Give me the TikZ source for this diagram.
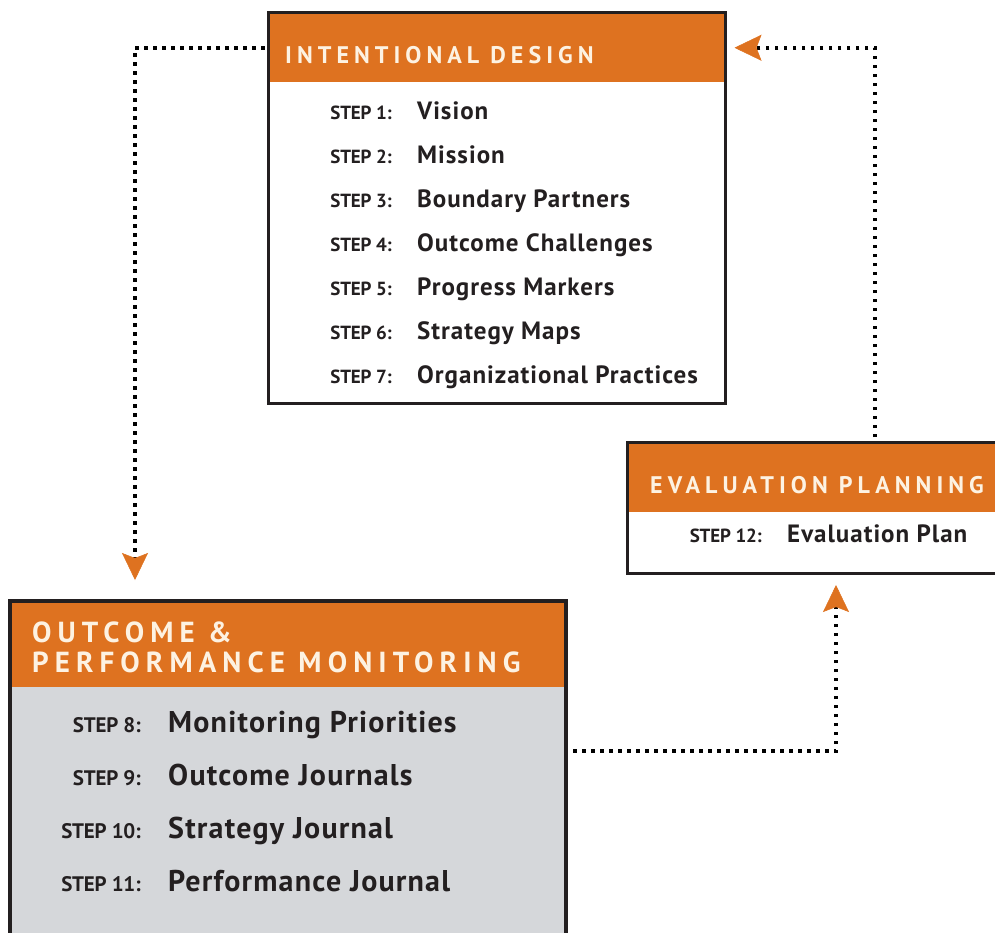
\documentclass[tikz,border=0pt]{standalone}
\usepackage{fontspec}
\setmainfont{PT Sans}
\usetikzlibrary{positioning, calc, arrows.meta}
\definecolor{stageorange}{RGB}{222,114,32}
\definecolor{stagegray}{RGB}{213,215,218}
\definecolor{stageink}{RGB}{35,31,32}
\definecolor{headink}{RGB}{253,242,226}

\begin{document}
\begin{tikzpicture}[x=1pt, y=-1pt,
  stage/.style={draw=stageink, anchor=north west, inner sep=0pt, outer sep=0pt},
  stagehead/.style={fill=stageorange, anchor=north west, inner sep=0pt, outer sep=0pt},
  headtitle/.style={anchor=base west, inner sep=0pt, text=headink, font=\bfseries\fontsize{#1}{#1}\selectfont\addfontfeatures{LetterSpace=21}},
  steplabel/.style={inner sep=0pt, text=stageink, font=\bfseries\fontsize{#1}{#1}\selectfont\addfontfeatures{LetterSpace=-1}},
  stepitem/.style={inner sep=0pt, text=stageink, font=\bfseries\fontsize{#1}{#1}\selectfont\addfontfeatures{LetterSpace=4}},
  flow/.style={line width=3.5pt, dash pattern=on 3.5pt off 5.5pt, shorten <=5pt, -{Stealth[length=27pt, width=26pt, inset=5pt, line width=0.5pt, color=stageorange]}}]

\useasboundingbox (0,0) rectangle (995,932);

% Intentional design

\node [stage, line width=3pt, fill=white, minimum width=457pt, minimum height=391pt] (intentional) at (268,12) {};
\node [stagehead, minimum width=454pt, minimum height=68.5pt] (idhead) at ($(intentional.north west)+(1.5,1.5)$) {};
\node [headtitle=24] (idtitle) at ($(intentional.north west)+(17,51)$) {INTENTIONAL DESIGN};

\node [steplabel=19, anchor=base east] (idstep1) at (392,119) {STEP 1:};
\node [steplabel=19, below=44pt of idstep1.base east, anchor=base east] (idstep2) {STEP 2:};
\node [steplabel=19, below=44pt of idstep2.base east, anchor=base east] (idstep3) {STEP 3:};
\node [steplabel=19, below=44pt of idstep3.base east, anchor=base east] (idstep4) {STEP 4:};
\node [steplabel=19, below=44pt of idstep4.base east, anchor=base east] (idstep5) {STEP 5:};
\node [steplabel=19, below=44pt of idstep5.base east, anchor=base east] (idstep6) {STEP 6:};
\node [steplabel=19, below=44pt of idstep6.base east, anchor=base east] (idstep7) {STEP 7:};

\node [stepitem=25, right=25pt of idstep1.base east, anchor=base west] (vision) {Vision};
\node [stepitem=25, right=25pt of idstep2.base east, anchor=base west] (mission) {Mission};
\node [stepitem=25, right=25pt of idstep3.base east, anchor=base west] (partners) {Boundary Partners};
\node [stepitem=25, right=25pt of idstep4.base east, anchor=base west] (challenges) {Outcome Challenges};
\node [stepitem=25, right=25pt of idstep5.base east, anchor=base west] (markers) {Progress Markers};
\node [stepitem=25, right=25pt of idstep6.base east, anchor=base west] (maps) {Strategy Maps};
\node [stepitem=25, right=25pt of idstep7.base east, anchor=base west] (practices) {Organizational Practices};

% Evaluation planning

\node [stage, line width=3pt, fill=white, minimum width=372pt, minimum height=131pt] (evaluation) at (627,442) {};
\node [stagehead, minimum width=369pt, minimum height=68.5pt] (ephead) at ($(evaluation.north west)+(1.5,1.5)$) {};
\node [headtitle=24] (eptitle) at ($(evaluation.north west)+(23,51)$) {EVALUATION PLANNING};

\node [steplabel=19, anchor=base east] (epstep12) at (762,542) {STEP 12:};
\node [stepitem=25, right=25pt of epstep12.base east, anchor=base west] (evalplan) {Evaluation Plan};

% Outcome & performance monitoring

\node [stage, line width=4.5pt, fill=stagegray, minimum width=556pt, minimum height=400pt] (monitoring) at (10,601) {};
\node [stagehead, minimum width=551.5pt, minimum height=84pt] (opmhead) at ($(monitoring.north west)+(2.25,2.25)$) {};
\node [headtitle=29] (opmtitle) at ($(monitoring.north west)+(22,41)$) {OUTCOME \&};
\node [headtitle=29, below=30pt of opmtitle.base west, anchor=base west] (opmsubtitle) {PERFORMANCE MONITORING};

\node [steplabel=21, anchor=base east] (opmstep8) at (141,732) {STEP 8:};
\node [steplabel=21, below=53pt of opmstep8.base east, anchor=base east] (opmstep9) {STEP 9:};
\node [steplabel=21, below=53pt of opmstep9.base east, anchor=base east] (opmstep10) {STEP 10:};
\node [steplabel=21, below=53pt of opmstep10.base east, anchor=base east] (opmstep11) {STEP 11:};

\node [stepitem=30, right=27pt of opmstep8.base east, anchor=base west] (priorities) {Monitoring Priorities};
\node [stepitem=30, right=27pt of opmstep9.base east, anchor=base west] (outcomejournals) {Outcome Journals};
\node [stepitem=30, right=27pt of opmstep10.base east, anchor=base west] (strategyjournal) {Strategy Journal};
\node [stepitem=30, right=27pt of opmstep11.base east, anchor=base west] (performancejournal) {Performance Journal};

% Cycle

\coordinate (opmin) at ($(monitoring.north west)+(125,-21)$);
\coordinate (opmout) at ($(monitoring.north east)+(2,150)$);
\coordinate (epin) at ($(evaluation.south west)+(209,12)$);
\coordinate (epout) at ($(evaluation.north west)+(248,0)$);
\coordinate (idin) at ($(idhead.east)+(11,0)$);

\draw[flow] (idhead.west) -| (opmin);
\draw[flow] (opmout) -| (epin);
\draw[flow] (epout) |- (idin);

\end{tikzpicture}
\end{document}
